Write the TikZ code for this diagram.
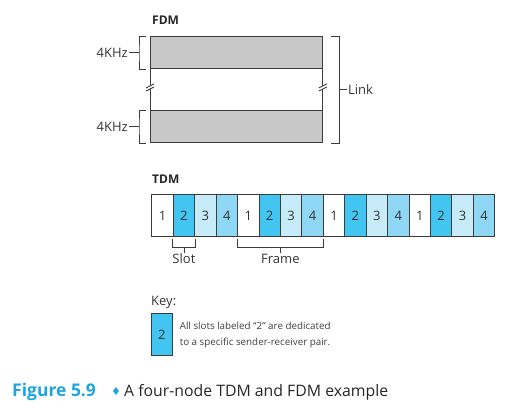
\documentclass[tikz,border=0pt]{standalone}
\usepackage{fontspec}
\setmainfont{Open Sans}
\newfontfamily\symfont{DejaVu Sans}
\usetikzlibrary{positioning,calc}
\definecolor{slotcolA}{RGB}{255,255,255}
\definecolor{slotcolB}{RGB}{66,197,240}
\definecolor{slotcolC}{RGB}{200,235,250}
\definecolor{slotcolD}{RGB}{142,215,245}
\definecolor{bandgray}{RGB}{200,200,200}
\definecolor{linegray}{RGB}{60,60,60}
\definecolor{figblue}{RGB}{28,165,225}

\begin{document}
\begin{tikzpicture}[
    x=1pt, y=-1pt,
    band/.style={draw=linegray, fill=bandgray, line width=0.9pt, inner sep=0,
                 minimum width=172pt, minimum height=32pt, anchor=north west},
    cell/.style={draw=linegray, line width=0.9pt, inner sep=0, anchor=north west,
                 minimum width=21.44pt, minimum height=42pt,
                 font=\fontsize{13}{15}\selectfont, text=black!80},
    edge/.style={draw=linegray, line width=0.9pt},
    brace/.style={draw=linegray, line width=0.7pt},
    heading/.style={anchor=base west, inner sep=0, font=\bfseries\fontsize{12}{14}\selectfont, text=black!85},
    label/.style={inner sep=1pt, font=\fontsize{13}{15}\selectfont, text=black!80}
  ]
    \useasboundingbox (0,0) rectangle (513,411);

    \node[heading] (fdm) at (152,25) {FDM};
    \node[band] (band1) at (150,36) {};
    \node[band] (band2) at (150,110) {};
    \foreach \s in {west,east} {
      \draw[edge] (band1.south \s) -- ++(0,17) coordinate (brkA);
      \draw[edge] (band2.north \s) -- ++(0,-21) coordinate (brkB);
      \draw[edge] ($(brkA)+(-4,2)$) -- ($(brkA)+(4,-2)$);
      \draw[edge] ($(brkB)+(-4,2)$) -- ($(brkB)+(4,-2)$);
    }
    \foreach \b/\k in {band1/khzA, band2/khzB} {
      \draw[brace] ($(\b.north west)+(-4,0)$) -| ($(\b.west)+(-11,0)$) |- ($(\b.south west)+(-4,0)$);
      \node[label, anchor=east] (\k) at ($(\b.west)+(-21,0)$) {4KHz};
      \draw[brace] (\k.east) -- ($(\b.west)+(-11,0)$);
    }
    \coordinate (linkmid) at ($(band1.north east)!0.5!(band2.south east)+(16,0)$);
    \draw[brace] ($(band1.north east)+(8,0)$) -| (linkmid) |- ($(band2.south east)+(8,0)$);
    \node[label, anchor=west] (link) at ($(linkmid)+(8,0)$) {Link};
    \draw[brace] (linkmid) -- (link.west);

    \node[heading] (tdm) at (152,184) {TDM};
    \foreach \i in {1,...,16} {
      \pgfmathtruncatemacro\n{mod(\i-1,4)+1}
      \pgfmathsetmacro\c{{"A","B","C","D"}[\n-1]}
      \node[cell, fill=slotcol\c] (c\i) at ({151.3+(\i-1)*21.44},194) {\n};
    }
    \draw[brace] ($(c2.south west)+(0,2)$) |- coordinate[pos=0.75] (slotmid) ($(c2.south east)+(0,10)$) -- ($(c2.south east)+(0,2)$);
    \draw[brace] (slotmid) -- ++(0,6) coordinate (slottip);
    \node[label, anchor=north] (slot) at (slottip) {Slot};
    \draw[brace] ($(c5.south west)+(0,2)$) |- coordinate[pos=0.75] (framemid) ($(c8.south east)+(0,10)$) -- ($(c8.south east)+(0,2)$);
    \draw[brace] (framemid) -- ++(0,6) coordinate (frametip);
    \node[label, anchor=north] (frame) at (frametip) {Frame};

    \node[label, anchor=base west, inner sep=0] (key) at (151,305) {Key:};
    \node[cell, fill=slotcolB, minimum width=20.4pt] (keybox) at (151.3,313.3) {2};
    \node[anchor=west, align=left, inner sep=0, text=black!75,
          font=\fontsize{9.8}{15.5}\selectfont] (keytext) at ($(keybox.east)+(7,0)$)
          {All slots labeled “2” are dedicated\\to a specific sender-receiver pair.};

    \node[anchor=base west, inner sep=0, text=figblue, font=\bfseries\fontsize{17.5}{20}\selectfont] (fignum) at (12,396) {Figure 5.9};
    \node[anchor=base west, inner sep=0, text=figblue, font=\symfont\fontsize{11}{12}\selectfont] (figsep) at (111,395) {♦};
    \node[anchor=base west, inner sep=0, text=black!85, font=\fontsize{15.8}{18}\selectfont] (figtext) at (124,396) {A four-node TDM and FDM example};
\end{tikzpicture}
\end{document}
